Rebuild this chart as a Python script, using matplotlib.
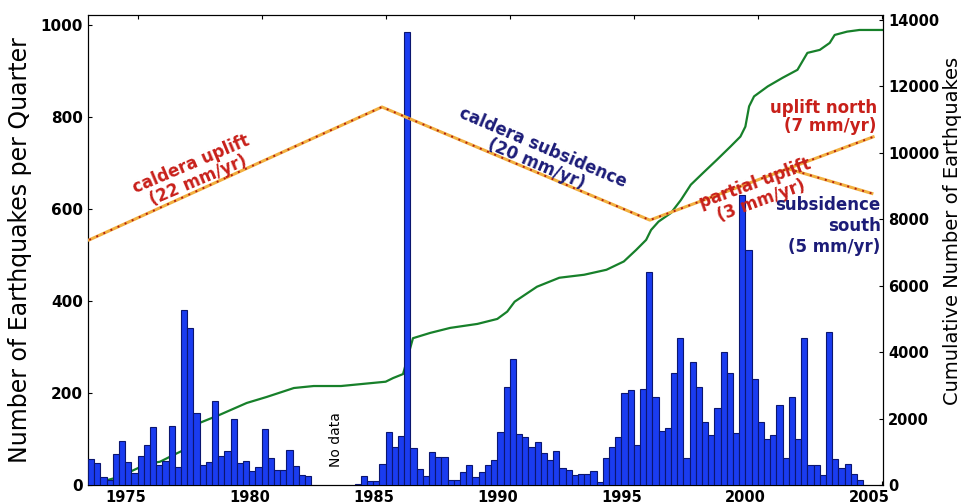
import numpy as np
import matplotlib.pyplot as plt
import matplotlib.transforms as mtransforms

plt.rcParams['font.family'] = ['DejaVu Sans']

# quarterly earthquake counts
counts_a = [57, 48, 17, 10, 67, 96, 50, 27, 63, 87, 126, 44, 53, 129, 39, 380,
            341, 156, 43, 50, 183, 63, 74, 144, 47, 53, 30, 39, 122, 59, 32, 32,
            76, 41, 22, 19]
start_a = 1973.0
counts_b = [3, 20, 9, 9, 46, 116, 83, 107, 985, 81, 35, 20, 72, 61, 61, 11,
            11, 28, 43, 18, 28, 43, 54, 116, 214, 274, 111, 105, 82, 93, 69, 54,
            75, 38, 33, 22, 24, 24, 31, 6, 58, 82, 105, 199, 207, 87, 208, 463,
            191, 118, 123, 243, 320, 59, 268, 214, 136, 109, 168, 290, 244, 112, 630, 511,
            230, 136, 101, 109, 175, 58, 191, 100, 320, 43, 43, 22, 333, 57, 38, 46,
            25, 11]
start_b = 1983.75

# cumulative number of earthquakes (right axis)
cum_years = [1973.0, 1974.2, 1975.4, 1975.9, 1976.6, 1977.0, 1977.25, 1977.5, 1978.3,
             1979.4, 1980.2, 1981.3, 1982.1, 1983.2, 1985.0, 1985.3, 1985.7, 1986.1,
             1986.8, 1987.6, 1988.7, 1989.5, 1989.9, 1990.2, 1991.1, 1992.0, 1993.0,
             1993.9, 1994.6, 1995.1, 1995.5, 1995.7, 1996.0, 1996.5, 1996.9, 1997.3,
             1997.8, 1998.35, 1998.9, 1999.3, 1999.5, 1999.65, 1999.85, 2000.4, 2001.0,
             2001.6, 2002.0, 2002.5, 2002.9, 2003.1, 2003.6, 2004.1, 2005.1]
cum_totals = [0, 230, 640, 700, 960, 1100, 1800, 1870, 2110, 2470, 2650, 2920, 2980,
              2980, 3110, 3220, 3340, 4420, 4580, 4730, 4850, 5000, 5220, 5520, 5970,
              6240, 6330, 6480, 6730, 7080, 7380, 7680, 7930, 8190, 8580, 9040, 9400,
              9790, 10190, 10490, 10790, 11400, 11700, 12000, 12260, 12500, 13010,
              13100, 13310, 13550, 13650, 13700, 13700]

# deformation trend sketch
trend_years = [1973.05, 1984.85, 1995.65, 2004.65]
trend_vals = [533, 822, 576, 757]
south_years = [2001.2, 2004.6]
south_vals = [688, 634]

fig = plt.figure(figsize=(9.69, 5.04), dpi=100)
ax = fig.add_axes([0.0908, 0.0377, 0.8205, 0.9325])
ax2 = ax.twinx()
ax.set_zorder(ax2.get_zorder() + 1)
ax.patch.set_visible(False)

xa = start_a + 0.25 * np.arange(len(counts_a))
xb = start_b + 0.25 * np.arange(len(counts_b))
for xs, cs in [(xa, counts_a), (xb, counts_b)]:
    ax.bar(xs, cs, width=0.25, align='edge', color='#1a3cf0',
           edgecolor='#0b1670', linewidth=0.8, zorder=3)

ax2.plot(cum_years, cum_totals, color='#17802a', lw=1.6)

for xs, ys in [(trend_years, trend_vals), (south_years, south_vals)]:
    ax.plot(xs, ys, color='#f2b040', lw=2.2, zorder=4)
    ax.plot(xs, ys, color='#b02010', lw=1.4, ls=(0, (1, 3)), zorder=5)

red = '#c8201a'
navy = '#1c1c78'
tk = dict(fontsize=12, fontweight='bold', zorder=6)
ax.text(1977.3, 680, 'caldera uplift\n(22 mm/yr)', color=red, rotation=23,
        ha='center', va='center', rotation_mode='anchor', linespacing=1.0, **tk)
ax.text(1991.2, 715, 'caldera subsidence\n(20 mm/yr)', color=navy, rotation=-23,
        ha='center', va='center', rotation_mode='anchor', linespacing=1.0, **tk)
ax.text(2000.0, 637, 'partial uplift\n(3 mm/yr)', color=red, rotation=20,
        ha='center', va='center', rotation_mode='anchor', linespacing=1.0, **tk)
ax.text(2004.8, 800, 'uplift north\n(7 mm/yr)', color=red, ha='right',
        va='center', multialignment='right', linespacing=1.05, **tk)
ax.text(2004.95, 563, 'subsidence\nsouth\n(5 mm/yr)', color=navy, ha='right',
        va='center', multialignment='right', linespacing=1.2, **tk)
ax.text(1983.0, 98, 'No data', rotation=90, ha='center', va='center', fontsize=10)

ax.set_xlim(1973.0, 2005.05)
ax.set_ylim(0, 1022)
ax2.set_ylim(0, 14150)
ax.set_xticks([1975, 1980, 1985, 1990, 1995, 2000, 2005])
ax.set_yticks([0, 200, 400, 600, 800, 1000])
ax2.set_yticks(np.arange(0, 14001, 2000))
ax.tick_params(direction='in', length=3, labelsize=10.5, top=True)
ax.tick_params(axis='y', labelsize=11)
ax2.tick_params(direction='in', length=3, labelsize=10.5)
for lab in ax.get_xticklabels() + ax.get_yticklabels() + ax2.get_yticklabels():
    lab.set_fontweight('bold')

# year labels sit a little left of their ticks in the original
shift = mtransforms.ScaledTranslation(-12 / 100, 0, fig.dpi_scale_trans)
for lab in ax.get_xticklabels():
    lab.set_transform(lab.get_transform() + shift)

ax.set_ylabel('Number of Earthquakes per Quarter', fontsize=17, labelpad=6)
ax2.set_ylabel('Cumulative Number of Earthquakes', fontsize=14)
ax2.yaxis.set_label_coords(1.075, 0.54)

fig.savefig('out.png', dpi=100)
